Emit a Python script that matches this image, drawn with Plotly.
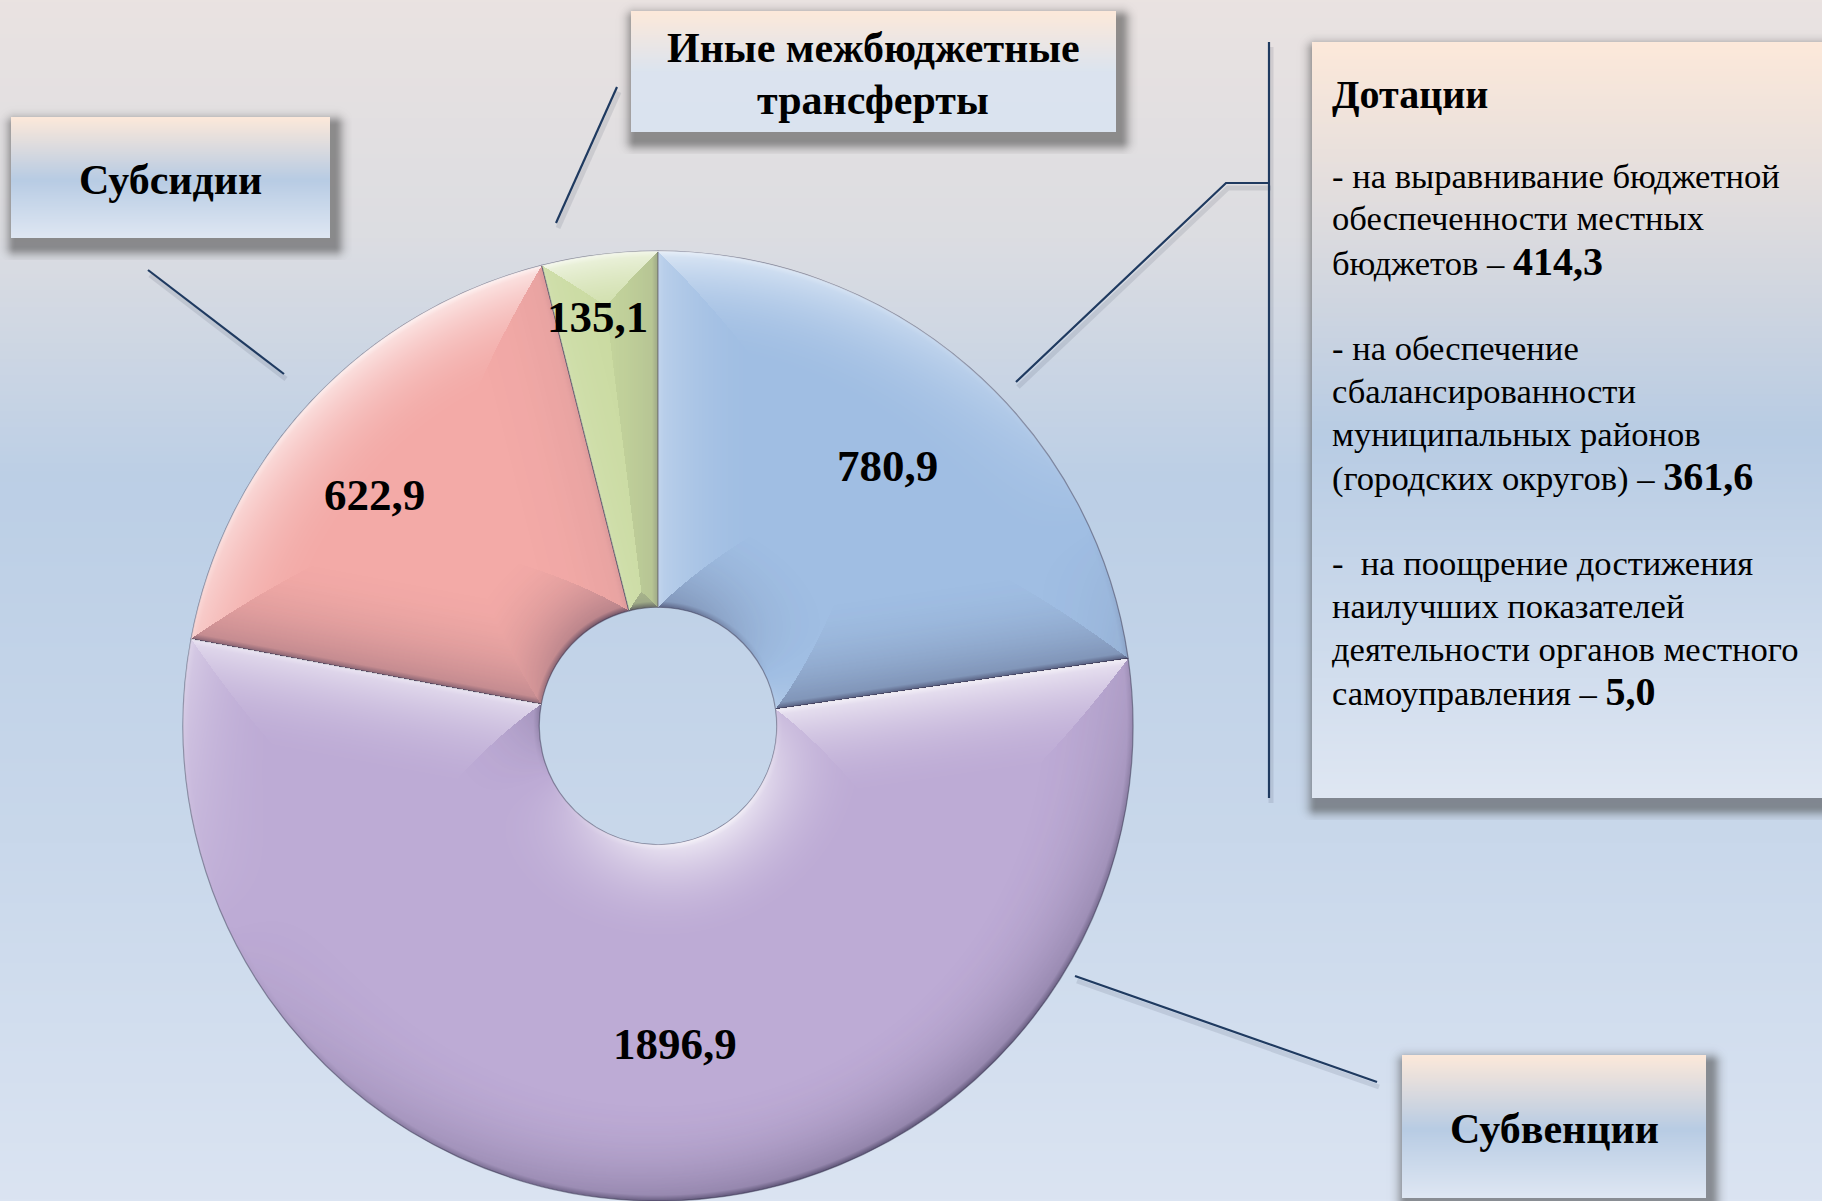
import base64
import struct
import zlib

import numpy as np
import plotly.graph_objects as go

# ---------------------------------------------------------------- data
categories = ["Дотации", "Субвенции", "Субсидии", "Иные межбюджетные трансферты"]
values = [780.9, 1896.9, 622.9, 135.1]
slice_colors = ["#a0bee3", "#bdabd5", "#f3aaa7", "#c9da9f"]

dotation_parts = [
    ["- на выравнивание бюджетной", "обеспеченности местных", "бюджетов"],
    ["- на обеспечение", "сбалансированности", "муниципальных районов", "(городских округов)"],
    ["-  на поощрение достижения", "наилучших показателей",
     "деятельности органов местного", "самоуправления"],
]
dotation_values = [414.3, 361.6, 5.0]

# ---------------------------------------------------------------- canvas helpers
W, H = 1822, 1201
SERIF = "Liberation Serif, Times New Roman, serif"
NAVY = "#1f3a60"


def X(px):
    return px / W


def Y(py):
    return 1 - py / H


def fmt(v):
    return f"{v:.1f}".replace(".", ",")


def png_uri(arr):
    arr = np.ascontiguousarray(np.clip(arr, 0, 255).astype(np.uint8))
    h, w, _ = arr.shape
    raw = b"".join(b"\x00" + arr[i].tobytes() for i in range(h))

    def chunk(tag, data):
        body = tag + data
        return struct.pack(">I", len(data)) + body + struct.pack(">I", zlib.crc32(body) & 0xFFFFFFFF)

    png = (b"\x89PNG\r\n\x1a\n"
           + chunk(b"IHDR", struct.pack(">IIBBBBB", w, h, 8, 6, 0, 0, 0))
           + chunk(b"IDAT", zlib.compress(raw, 9))
           + chunk(b"IEND", b""))
    return "data:image/png;base64," + base64.b64encode(png).decode()


def hex_rgb(c):
    c = c.lstrip("#")
    return [int(c[i:i + 2], 16) for i in (0, 2, 4)]


def vgradient(stops, n=300):
    t = np.linspace(0, 1, n)
    pos = [s[0] for s in stops]
    cols = np.array([hex_rgb(s[1]) for s in stops], dtype=float)
    rgb = np.stack([np.interp(t, pos, cols[:, k]) for k in range(3)], axis=1)
    img = np.zeros((n, 2, 4))
    img[:, :, :3] = rgb[:, None, :]
    img[:, :, 3] = 255
    return png_uri(img)


def shadow(w, h, pad=22, dx=4, dy=8, blur=9, alpha=0.55):
    ww, hh = w + 2 * pad, h + 2 * pad
    xs = np.arange(ww)[None, :] - pad - dx
    ys = np.arange(hh)[:, None] - pad - dy
    ddx = np.maximum(np.maximum(-xs, xs - w), 0)
    ddy = np.maximum(np.maximum(-ys, ys - h), 0)
    d = np.sqrt(ddx ** 2 + ddy ** 2)
    a = alpha * np.exp(-(d / blur) ** 2)
    img = np.zeros((hh, ww, 4))
    img[:, :, :3] = 70
    img[:, :, 3] = a * 255
    return png_uri(img), pad


images = []


def add_image(src, x0, y0, w, h, layer="below"):
    images.append(dict(source=src, xref="paper", yref="paper", x=X(x0), y=Y(y0),
                       sizex=w / W, sizey=h / H, xanchor="left", yanchor="top",
                       sizing="stretch", layer=layer))


# background
add_image(vgradient([(0, "#eae3e1"), (0.2, "#dcdde2"), (0.4, "#bccfe6"),
                     (0.7, "#c9d8eb"), (1, "#dbe4f2")]), 0, 0, W, H)

box_grad = vgradient([(0, "#fde9da"), (0.52, "#b8cce4"), (1, "#dfe7f3")])
top_grad = vgradient([(0, "#fde9da"), (0.5, "#dce4ef"), (1, "#dae3f0")])

boxes = [  # x0, y0, x1, y1, gradient
    (11, 117, 330, 238, box_grad),
    (631, 11, 1116, 132, top_grad),
    (1312, 42, 1822, 798, box_grad),
    (1402, 1055, 1706, 1198, box_grad),
]
for x0, y0, x1, y1, g in boxes:
    src, pad = shadow(x1 - x0, y1 - y0)
    add_image(src, x0 - pad, y0 - pad, x1 - x0 + 2 * pad, y1 - y0 + 2 * pad)
for x0, y0, x1, y1, g in boxes:
    add_image(g, x0, y0, x1 - x0, y1 - y0)

# ---------------------------------------------------------------- leader lines
leaders = [
    [(148, 270), (284, 374)],
    [(617, 87), (556, 223)],
    [(1269, 42), (1269, 798)],
    [(1269, 183), (1226, 183), (1016, 382)],
    [(1075, 976), (1377, 1082)],
]
shapes = []
for pts in leaders:
    path = "M " + " L ".join(f"{X(px)},{Y(py)}" for px, py in pts)
    shp = "M " + " L ".join(f"{X(px + 2)},{Y(py + 5)}" for px, py in pts)
    shapes.append(dict(type="path", path=shp, xref="paper", yref="paper",
                       line=dict(color="rgba(60,70,90,0.13)", width=5), layer="below"))
    shapes.append(dict(type="path", path=path, xref="paper", yref="paper",
                       line=dict(color=NAVY, width=2.2), layer="above"))

# ---------------------------------------------------------------- doughnut
CX, CY, R = 658, 726, 475
HOLE = 0.25

fig = go.Figure()
fig.add_trace(go.Pie(
    labels=categories, values=values, sort=False, direction="clockwise", rotation=0,
    hole=HOLE, textinfo="none", hoverinfo="label+value", showlegend=False,
    marker=dict(colors=slice_colors, line=dict(color="rgba(80,80,105,0.6)", width=1.2)),
    domain=dict(x=[X(CX - R), X(CX + R)], y=[Y(CY + R), Y(CY - R)]),
))


def bevel_overlay(bounds_deg, width=110.0):
    """Semi-transparent light/shade layer giving the ring segments a bevelled look."""
    n = 2 * R
    yy, xx = np.mgrid[0:n, 0:n].astype(float)
    px = xx + 0.5 - R
    py = yy + 0.5 - R
    r = np.hypot(px, py) + 1e-9
    rh = HOLE * R
    light = np.array([-0.42, -0.91])
    light /= np.hypot(*light)

    best = R - r
    nx, ny = px / r, py / r
    d_in = r - rh
    m = d_in < best
    best = np.where(m, d_in, best)
    nx = np.where(m, -px / r, nx)
    ny = np.where(m, -py / r, ny)
    for b in bounds_deg:
        phi = np.deg2rad(b)
        ex, ey = np.sin(phi), -np.cos(phi)
        t = px * ex + py * ey
        fx, fy = t * ex - px, t * ey - py
        d = np.hypot(fx, fy) + 1e-9
        d = np.where(t > 0, d, np.inf)
        m = d < best
        best = np.where(m, d, best)
        nx = np.where(m, fx / d, nx)
        ny = np.where(m, fy / d, ny)

    shade = nx * light[0] + ny * light[1]
    f = np.clip(1 - best / width, 0, 1) ** 2.2
    edge = np.clip(1 - best / 6, 0, 1)
    hi = np.clip(shade, 0, 1) * (0.7 * f + 0.15 * edge)
    lo = np.clip(-shade, 0, 1) * (0.32 * f + 0.35 * edge)
    inside = np.clip(R - r + 0.5, 0, 1) * np.clip(r - rh + 0.5, 0, 1)
    img = np.zeros((n, n, 4))
    is_hi = hi >= lo
    img[:, :, 0] = np.where(is_hi, 255, 45)
    img[:, :, 1] = np.where(is_hi, 255, 40)
    img[:, :, 2] = np.where(is_hi, 255, 70)
    img[:, :, 3] = np.where(is_hi, hi, lo) * inside * 255
    return png_uri(img)


total = sum(values)
starts = np.cumsum([0] + values[:-1]) / total * 360
add_image(bevel_overlay(starts), CX - R, CY - R, 2 * R, 2 * R, layer="above")

annotations = []

# value labels placed along each slice's bisector
label_r = [0.73, 0.67, 0.77, 0.87]
label_dphi = [0.6, -4.2, -4.1, -1.4]
cum = 0.0
for v, rf, dphi in zip(values, label_r, label_dphi):
    phi = np.deg2rad((cum + v / 2) / total * 360 + dphi)
    cum += v
    lx = CX + rf * R * np.sin(phi)
    ly = CY - rf * R * np.cos(phi)
    annotations.append(dict(x=X(lx), y=Y(ly), xref="paper", yref="paper", text=fmt(v),
                            showarrow=False, xanchor="center", yanchor="middle",
                            font=dict(family=SERIF, size=45, color="black", weight="bold")))

# category captions in boxes
captions = [
    ("Субсидии", 170, 180),
    ("Иные межбюджетные", 873, 48),
    ("трансферты", 873, 100),
    ("Субвенции", 1554, 1129),
]
for txt, px, py in captions:
    annotations.append(dict(x=X(px), y=Y(py), xref="paper", yref="paper", text=txt,
                            showarrow=False, xanchor="center", yanchor="middle",
                            font=dict(family=SERIF, size=42, color="black", weight="bold")))

# breakdown of dotations
TX = 1330
annotations.append(dict(x=X(TX), y=Y(95), xref="paper", yref="paper", text="Дотации",
                        showarrow=False, xanchor="left", yanchor="middle",
                        font=dict(family=SERIF, size=40, color="black", weight="bold")))
line_no = 0
for p, (lines, val) in enumerate(zip(dotation_parts, dotation_values)):
    for i, ln in enumerate(lines):
        py = 175.5 + 42.8 * line_no + 44 * p
        txt = ln
        if i == len(lines) - 1:
            txt = f"{ln} – <span style='font-size:40px'><b>{fmt(val)}</b></span>"
        annotations.append(dict(x=X(TX), y=Y(py), xref="paper", yref="paper", text=txt,
                                showarrow=False, xanchor="left", yanchor="middle",
                                font=dict(family=SERIF, size=34.6, color="black")))
        line_no += 1

fig.update_layout(
    width=W, height=H, margin=dict(l=0, r=0, t=0, b=0),
    paper_bgcolor="#d3dcea", plot_bgcolor="rgba(0,0,0,0)",
    images=images, shapes=shapes, annotations=annotations,
    xaxis=dict(visible=False), yaxis=dict(visible=False),
)

fig.write_html("out.html")
